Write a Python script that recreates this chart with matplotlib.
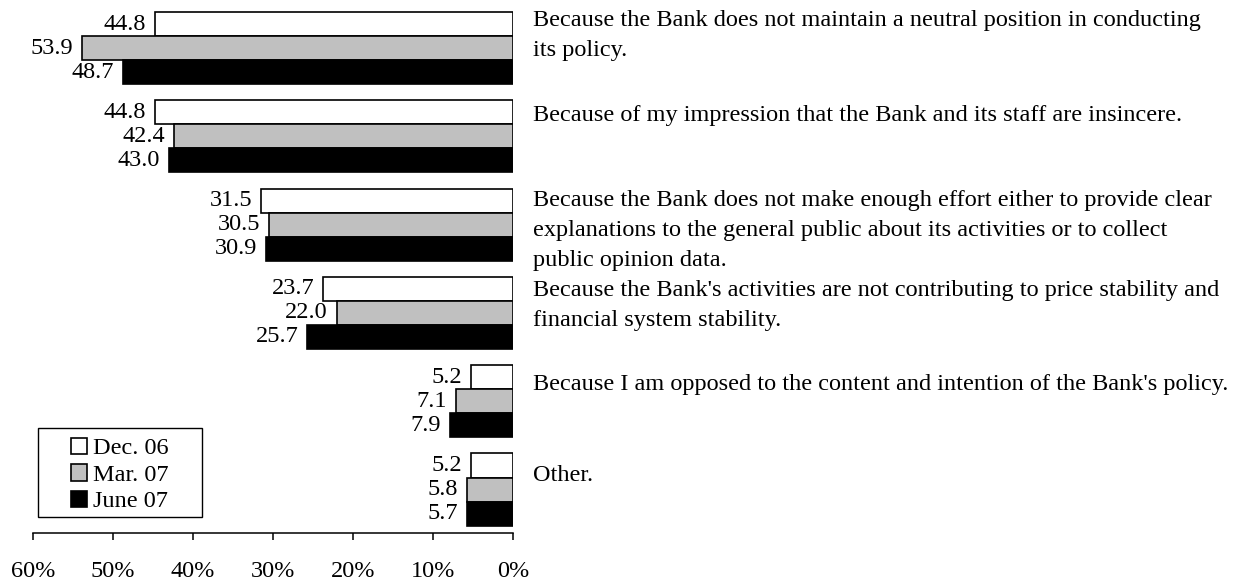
import matplotlib
matplotlib.use("Agg")
import matplotlib.pyplot as plt
from matplotlib.patches import Patch, Rectangle
import numpy as np

plt.rcParams['font.family'] = ['Liberation Serif', 'DejaVu Serif']

categories = [
    "Because the Bank does not maintain a neutral position in conducting\nits policy.",
    "Because of my impression that the Bank and its staff are insincere.",
    "Because the Bank does not make enough effort either to provide clear\nexplanations to the general public about its activities or to collect\npublic opinion data.",
    "Because the Bank's activities are not contributing to price stability and\nfinancial system stability.",
    "Because I am opposed to the content and intention of the Bank's policy.",
    "Other.",
]
series_names = ["Dec. 06", "Mar. 07", "June 07"]
dec06 = [44.8, 44.8, 31.5, 23.7, 5.2, 5.2]
mar07 = [53.9, 42.4, 30.5, 22.0, 7.1, 5.8]
jun07 = [48.7, 43.0, 30.9, 25.7, 7.9, 5.7]
xticks = [60, 50, 40, 30, 20, 10, 0]
xticklabels = ["60%", "50%", "40%", "30%", "20%", "10%", "0%"]

# layout: small vertical nudges (px) of the category text blocks
text_nudge_px = [-5.5, 1, -2, 0, 5, 8]

colors = ["white", "#c0c0c0", "black"]
FS = 17.5

W, H = 1241, 581
fig = plt.figure(figsize=(W / 100, H / 100), dpi=100)
ax = fig.add_axes([33 / W, 48 / H, 480 / W, 533 / H])

pitch = 88.3
bh = 24 / pitch
y = np.arange(len(categories))
for k, (vals, c) in enumerate(zip([dec06, mar07, jun07], colors)):
    pos = y + (k - 1) * bh
    ax.barh(pos, vals, height=bh, color=c, edgecolor="black", linewidth=1.2)
    for p, v in zip(pos, vals):
        ax.annotate(f"{v:.1f}", xy=(v, p), xytext=(-6.5, 0), textcoords="offset points",
                    ha="right", va="center", fontsize=FS)

pt = 72 / 100
for i, cat in enumerate(categories):
    ax.annotate(cat, xy=(0, y[i] - bh),
                xytext=(14.4, 6.2 - text_nudge_px[i] * pt), textcoords="offset points",
                ha="left", va="top", fontsize=FS, linespacing=1.55,
                annotation_clip=False)

ax.set_xlim(60, 0)
ax.set_ylim(-48 / pitch + 533 / pitch, -48 / pitch)
ax.set_xticks(xticks)
ax.set_xticklabels(xticklabels, fontsize=FS)
ax.tick_params(axis="x", direction="out", length=5, width=1.1, pad=15.5)
ax.set_yticks([])
for s in ["left", "right", "top"]:
    ax.spines[s].set_visible(False)
ax.spines["bottom"].set_linewidth(1.1)
ax.patch.set_visible(False)

handles = [Patch(facecolor=c, edgecolor="black", linewidth=1.2) for c in colors]
leg = fig.legend(handles, series_names, loc="center",
                 bbox_to_anchor=(120 / W, 1 - 475 / H), frameon=False, fontsize=FS,
                 handlelength=0.66, handleheight=0.66, handletextpad=0.25,
                 labelspacing=0.2, borderpad=0)
fig.patches.append(Rectangle((38 / W, 1 - 517 / H), 164 / W, 89 / H,
                             transform=fig.transFigure, facecolor="none",
                             edgecolor="black", linewidth=1.0))

fig.savefig("out.png", dpi=100)
